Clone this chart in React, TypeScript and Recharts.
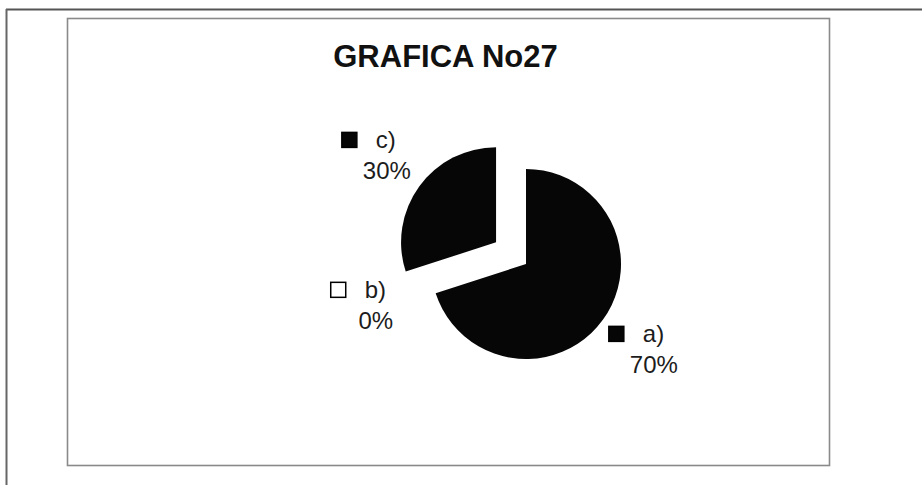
import React from 'react';
import { PieChart, Pie, Cell } from 'recharts';

// ---- data ----
const categories = ['a)', 'b)', 'c)'];
const shares = [70, 0, 30];
const chartTitle = 'GRAFICA No27';
const explodedCategory = 'c)';

// ---- styles ----
const FILLS = ['#060606', '#ffffff', '#060606'];
const FONT = '"Liberation Sans", Arial, Helvetica, sans-serif';
const TEXT = '#1c1c1c';

const W = 922;
const H = 485;
const CX = 526;
const CY = 264;
const R = 95;
const EXPLODE = 37;
const START = 90;
const END = -270;
const RAD = Math.PI / 180;

const data = categories.map((name, i) => ({ name, value: shares[i] }));
const total = shares.reduce((s, v) => s + v, 0);
const exIdx = categories.indexOf(explodedCategory);
const before = shares.slice(0, exIdx).reduce((s, v) => s + v, 0);
const exMid = START + ((END - START) * (before + shares[exIdx] / 2)) / total;
const exDx = EXPLODE * Math.cos(exMid * RAD);
const exDy = -EXPLODE * Math.sin(exMid * RAD);

const makeLabel = (show: (i: number) => boolean, dist: number) => (props: any) => {
  const { cx, cy, midAngle, outerRadius, index, percent, name } = props;
  if (!show(index)) return null;
  const r = outerRadius + dist;
  const px = cx + r * Math.cos(-midAngle * RAD);
  const py = cy + r * Math.sin(-midAngle * RAD);
  const b1 = py - 15;
  const b2 = py + 16;
  const keyFill = FILLS[index];
  return (
    <g key={`lbl-${index}`}>
      <rect
        x={px - 45}
        y={b1 - 15.5}
        width={15}
        height={15}
        fill={keyFill}
        stroke="#000"
        strokeWidth={1.5}
      />
      <text x={px - 11} y={b1} fontFamily={FONT} fontSize={24} fill={TEXT} textAnchor="start">
        {name}
      </text>
      <text x={px} y={b2} fontFamily={FONT} fontSize={24} fill={TEXT} textAnchor="middle">
        {`${Math.round(percent * 100)}%`}
      </text>
    </g>
  );
};

export default function App() {
  return (
    <div style={{ position: 'absolute', left: 0, top: 0, width: W, height: H, background: '#fff' }}>
      <svg width={W} height={H} style={{ position: 'absolute', left: 0, top: 0 }}>
        <line x1={6} y1={9.5} x2={W} y2={9.5} stroke="#555" strokeWidth={2} />
        <line x1={6.5} y1={9} x2={6.5} y2={H} stroke="#666" strokeWidth={2} />
        <rect x={67.5} y={18.5} width={762} height={447} fill="none" stroke="#8a8a8a" strokeWidth={1.6} />
        <text
          x={445.5}
          y={67}
          textAnchor="middle"
          fontFamily={FONT}
          fontWeight="bold"
          fontSize={31}
          fill="#111"
        >
          {chartTitle}
        </text>
      </svg>
      <div style={{ position: 'absolute', left: 0, top: 0 }}>
        <PieChart width={W} height={H} margin={{ top: 0, right: 0, bottom: 0, left: 0 }}>
          <Pie
            data={data}
            dataKey="value"
            nameKey="name"
            cx={CX}
            cy={CY}
            outerRadius={R}
            startAngle={START}
            endAngle={END}
            stroke="none"
            isAnimationActive={false}
            labelLine={false}
            label={makeLabel((i) => i !== exIdx, 63)}
          >
            {data.map((d, i) => (
              <Cell key={d.name} fill={i === exIdx ? 'none' : FILLS[i]} />
            ))}
          </Pie>
          <Pie
            data={data}
            dataKey="value"
            nameKey="name"
            cx={CX + exDx}
            cy={CY + exDy}
            outerRadius={R}
            startAngle={START}
            endAngle={END}
            stroke="none"
            isAnimationActive={false}
            labelLine={false}
            label={makeLabel((i) => i === exIdx, 40)}
          >
            {data.map((d, i) => (
              <Cell key={d.name} fill={i === exIdx ? FILLS[i] : 'none'} />
            ))}
          </Pie>
        </PieChart>
      </div>
    </div>
  );
}
